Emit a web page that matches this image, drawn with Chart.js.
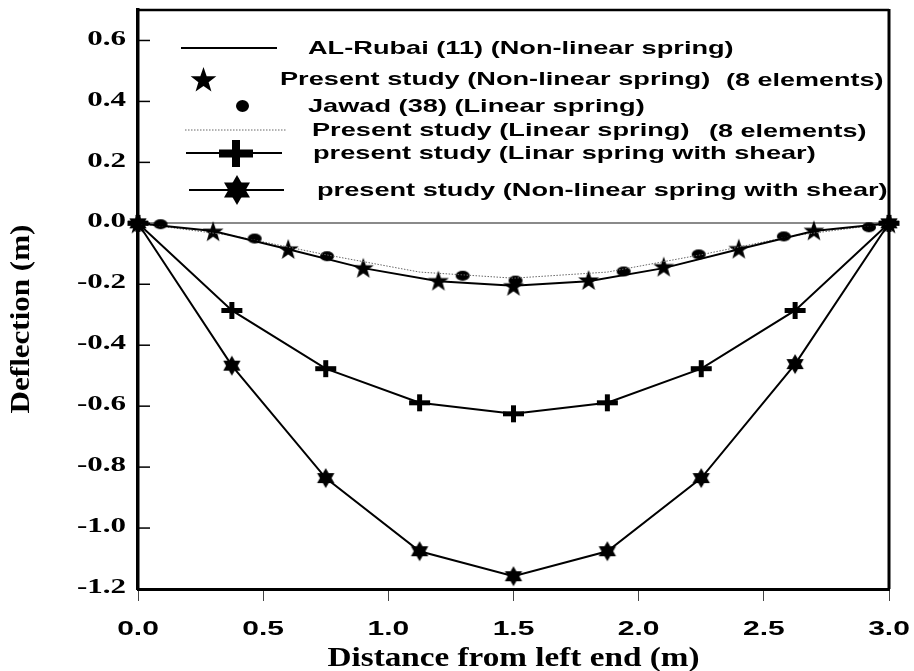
<!DOCTYPE html>
<html>
<head>
<meta charset="utf-8">
<script src="https://cdn.jsdelivr.net/npm/chart.js@4"></script>
<style>
  body { margin: 0; background: #fff; }
  canvas { display: block; }
</style>
</head>
<body>
<canvas id="grafica" width="914" height="671"></canvas>
<script>
// valores
const xRubai = [0, 0.3, 0.6, 0.9, 1.2, 1.5, 1.8, 2.1, 2.4, 2.7, 3.0];
const yRubai = [0, -0.025, -0.085, -0.147, -0.19, -0.205, -0.19, -0.147, -0.085, -0.025, 0];
const yStars = [0, -0.026, -0.084, -0.146, -0.188, -0.205, -0.186, -0.142, -0.083, -0.023, 0];
const xJawad = [0.09, 0.466, 0.755, 1.297, 1.508, 1.94, 2.24, 2.58, 2.92];
const yJawad = [-0.003, -0.05, -0.108, -0.172, -0.188, -0.158, -0.102, -0.043, -0.013];
const xElem = [0, 0.375, 0.75, 1.125, 1.5, 1.875, 2.25, 2.625, 3.0];
const yLinear = [0, -0.04, -0.103, -0.16, -0.18, -0.16, -0.103, -0.04, 0];
const yLinShear = [0, -0.286, -0.477, -0.589, -0.625, -0.589, -0.477, -0.286, 0];
const yNonShear = [0, -0.467, -0.836, -1.076, -1.158, -1.076, -0.836, -0.462, 0];
const xTicks = [0, 0.5, 1.0, 1.5, 2.0, 2.5, 3.0];
const yTicks = [-1.2, -1.0, -0.8, -0.6, -0.4, -0.2, 0, 0.2, 0.4, 0.6];
const etiquetas = [
  "AL-Rubai (11) (Non-linear spring)",
  "Present study (Non-linear spring)",
  "Jawad (38) (Linear spring)",
  "Present study (Linear spring)",
  "present study (Linar spring with shear)",
  "present study (Non-linear spring with shear)"
];
const notas = ["", "(8 elements)", "", "(8 elements)", "", ""];

const pts = (xs, ys) => xs.map((x, i) => ({ x: x, y: ys[i] }));

// marcadores dibujados en canvas
const lienzo = (w, h, draw) => {
  let c = document.createElement("canvas");
  c.width = w; c.height = h;
  let ctx = c.getContext("2d");
  ctx.fillStyle = "#000";
  draw(ctx, w / 2, h / 2);
  return c;
};
const estrella = (R) => lienzo(Math.ceil(2 * R + 2), Math.ceil(2 * R + 2), (ctx, cx, cy) => {
  ctx.beginPath();
  for (let i = 0; i < 10; i++) {
    let r = i % 2 ? R * 0.4 : R;
    let a = -Math.PI / 2 + i * Math.PI / 5;
    ctx.lineTo(cx + r * Math.cos(a), cy + 1 + r * Math.sin(a));
  }
  ctx.closePath();
  ctx.fill();
});
const hexagrama = (R) => lienzo(Math.ceil(2 * R + 2), Math.ceil(2 * R + 2), (ctx, cx, cy) => {
  [-90, 90].forEach(a0 => {
    ctx.beginPath();
    for (let k = 0; k < 3; k++) {
      let a = (a0 + k * 120) * Math.PI / 180;
      ctx.lineTo(cx + R * Math.cos(a), cy + R * Math.sin(a));
    }
    ctx.closePath();
    ctx.fill();
  });
});
const cruz = (w, h, t) => lienzo(w + 2, h + 2, (ctx, cx, cy) => {
  ctx.fillRect(cx - w / 2, cy - t / 2, w, t);
  ctx.fillRect(cx - t / 2, cy - h / 2, t, h);
});
const elipse = (w, h) => lienzo(w + 2, h + 2, (ctx, cx, cy) => {
  ctx.beginPath();
  ctx.ellipse(cx, cy, w / 2, h / 2, 0, 0, 2 * Math.PI);
  ctx.fill();
});

const mStar = estrella(11), mStarL = estrella(13.5);
const mHex = hexagrama(10), mHexL = hexagrama(15);
const mPlus = cruz(21, 17, 5), mPlusL = cruz(34, 27, 8);
const mDot = elipse(14, 10), mDotL = elipse(13, 12);

const textoAncho = (ctx, txt, x, y, sx, align) => {
  ctx.save();
  ctx.translate(x, y);
  ctx.scale(sx, 1);
  ctx.textAlign = align;
  ctx.fillText(txt, 0, 0);
  ctx.restore();
};

const marco = {
  id: "marco",
  afterDraw(chart) {
    const ctx = chart.ctx;
    const a = chart.chartArea;
    const sx = chart.scales.x, sy = chart.scales.y;
    ctx.save();
    ctx.strokeStyle = "#000";
    ctx.fillStyle = "#000";
    // borde superior y derecho
    ctx.lineWidth = 2.5;
    ctx.beginPath();
    ctx.moveTo(a.left, a.top); ctx.lineTo(a.right, a.top);
    ctx.stroke();
    ctx.lineWidth = 3;
    ctx.beginPath();
    ctx.moveTo(a.right, a.top - 1); ctx.lineTo(a.right, a.bottom);
    ctx.stroke();
    // marcas del eje y hacia dentro
    ctx.lineWidth = 1.5;
    yTicks.forEach(v => {
      let py = sy.getPixelForValue(v);
      ctx.beginPath();
      ctx.moveTo(a.left, py); ctx.lineTo(a.left + 12, py);
      ctx.stroke();
    });
    // etiquetas de ticks
    ctx.textBaseline = "middle";
    ctx.font = "bold 20px 'Liberation Serif'";
    yTicks.forEach(v => {
      textoAncho(ctx, v.toFixed(1), 126, sy.getPixelForValue(v) - 1, 1.55, "right");
    });
    ctx.font = "bold 20px 'Liberation Sans'";
    xTicks.forEach(v => {
      textoAncho(ctx, v.toFixed(1), sx.getPixelForValue(v), 629, 1.5, "center");
    });
    // titulos
    ctx.font = "bold 27px 'Liberation Serif'";
    ctx.textBaseline = "alphabetic";
    textoAncho(ctx, "Distance from left end (m)", (a.left + a.right) / 2, 666, 1.23, "center");
    ctx.save();
    ctx.translate(22, 319);
    ctx.rotate(-Math.PI / 2);
    ctx.textBaseline = "middle";
    textoAncho(ctx, "Deflection (m)", 0, 0, 1.15, "center");
    ctx.restore();
    // leyenda
    const filas = [
      { y: 48, tx: 308, linea: [181, 277], m: null },
      { y: 79, tx: 280, linea: null, m: mStarL, mx: 203 },
      { y: 106, tx: 308, linea: null, m: mDotL, mx: 242 },
      { y: 130, tx: 312, linea: [185, 287], m: null, punteada: true },
      { y: 153, tx: 313, linea: [186, 282], m: mPlusL, mx: 236 },
      { y: 190, tx: 317, linea: [189, 284], m: mHexL, mx: 237 }
    ];
    const notaX = [0, 726, 0, 709, 0, 0];
    filas.forEach((f, i) => {
      if (f.linea) {
        ctx.save();
        if (f.punteada) {
          ctx.strokeStyle = "#666";
          ctx.lineWidth = 1;
          ctx.setLineDash([1.5, 1.5]);
        } else {
          ctx.lineWidth = 2;
        }
        ctx.beginPath();
        ctx.moveTo(f.linea[0], f.y); ctx.lineTo(f.linea[1], f.y);
        ctx.stroke();
        ctx.restore();
      }
      if (f.m) {
        ctx.drawImage(f.m, Math.round(f.mx - f.m.width / 2), Math.round(f.y - f.m.height / 2));
      }
      ctx.font = "bold 19px 'Liberation Sans'";
      ctx.textBaseline = "middle";
      textoAncho(ctx, etiquetas[i], f.tx, f.y + 1, 1.43, "left");
      if (notas[i]) {
        textoAncho(ctx, notas[i], notaX[i], f.y + 2, 1.42, "left");
      }
    });
    ctx.restore();
  }
};

const config = {
  type: "scatter",
  data: {
    datasets: [
      {
        label: etiquetas[0],
        data: pts(xRubai, yRubai),
        showLine: true,
        borderColor: "#000",
        borderWidth: 2,
        pointRadius: 0,
        clip: false
      },
      {
        label: etiquetas[3],
        data: pts(xElem, yLinear),
        showLine: true,
        borderColor: "#666",
        borderWidth: 1,
        borderDash: [1.5, 1.5],
        pointRadius: 0,
        clip: false
      },
      {
        label: etiquetas[1],
        data: pts(xRubai, yStars),
        showLine: false,
        pointStyle: mStar,
        clip: false
      },
      {
        label: etiquetas[2],
        data: pts(xJawad, yJawad),
        showLine: false,
        pointStyle: mDot,
        clip: false
      },
      {
        label: etiquetas[4],
        data: pts(xElem, yLinShear),
        showLine: true,
        borderColor: "#000",
        borderWidth: 2,
        pointStyle: mPlus,
        clip: false
      },
      {
        label: etiquetas[5],
        data: pts(xElem, yNonShear),
        showLine: true,
        borderColor: "#000",
        borderWidth: 2,
        pointStyle: mHex,
        clip: false
      }
    ]
  },
  options: {
    responsive: false,
    animation: false,
    layout: { padding: { top: 10, right: 25, left: 0, bottom: 0 } },
    plugins: {
      legend: { display: false },
      tooltip: { enabled: false }
    },
    scales: {
      x: {
        type: "linear",
        min: 0,
        max: 3,
        afterBuildTicks: (s) => { s.ticks = xTicks.map(v => ({ value: v })); },
        afterFit: (s) => { s.height = 82; },
        ticks: { display: false },
        grid: { drawOnChartArea: false, drawTicks: true, tickLength: 12, color: "#444", lineWidth: 1 },
        border: { display: true, color: "#000", width: 3 }
      },
      y: {
        type: "linear",
        min: -1.2,
        max: 0.7,
        afterBuildTicks: (s) => { s.ticks = yTicks.map(v => ({ value: v })); },
        afterFit: (s) => { s.width = 138; },
        ticks: { display: false },
        grid: {
          drawTicks: false,
          lineWidth: 2,
          color: (c) => (c.tick && c.tick.value === 0 ? "#8a8a8a" : "rgba(0,0,0,0)")
        },
        border: { display: true, color: "#000", width: 3.5 }
      }
    }
  },
  plugins: [marco]
};

document.addEventListener("DOMContentLoaded", () => {
  new Chart(document.querySelector("#grafica"), config);
});
</script>
</body>
</html>
